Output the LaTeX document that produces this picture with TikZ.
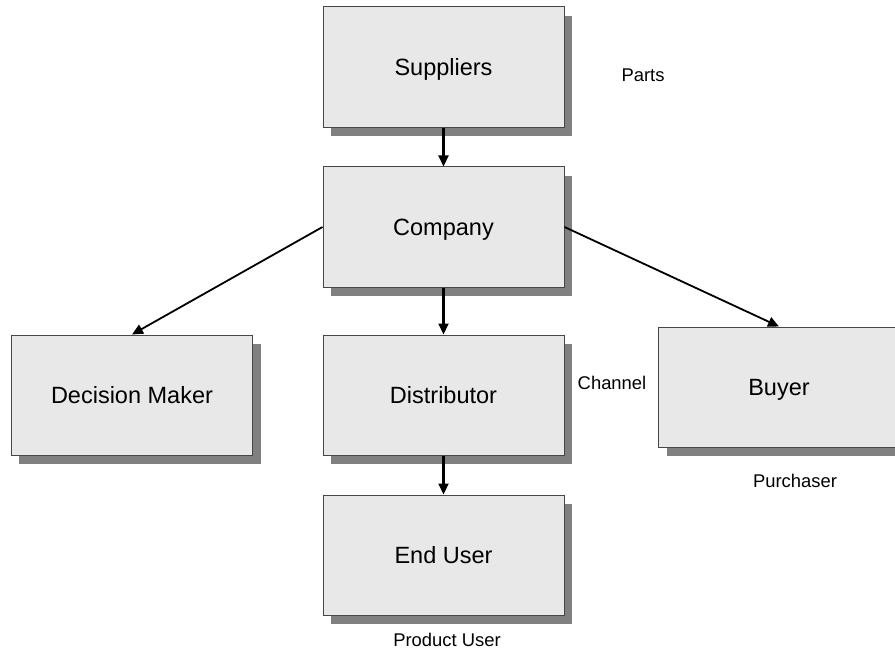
\documentclass[tikz,border=0pt]{standalone}
\usepackage{fontspec}
\setmainfont{Liberation Sans}
\usetikzlibrary{arrows.meta,shadows}
\definecolor{boxfill}{RGB}{232,232,232}
\definecolor{boxline}{RGB}{70,70,70}
\definecolor{shadowgray}{RGB}{128,128,128}
\begin{document}
\begin{tikzpicture}[x=1bp,y=-1bp,
  entity/.style={draw=boxline, line width=1bp, fill=boxfill,
    minimum width=241bp, minimum height=120bp, inner sep=0pt,
    text height=16.8bp, text depth=0pt,
    general shadow={fill=shadowgray, shadow xshift=8bp, shadow yshift=-9bp},
    font=\fontsize{23.5bp}{27bp}\selectfont},
  note/.style={inner sep=0pt, font=\fontsize{18.4bp}{22bp}\selectfont},
  flow/.style={line width=2.2bp, -{Triangle[length=11bp,width=10bp]}}]
\useasboundingbox (0,0) rectangle (895,649);
\clip (0,0) rectangle (895,649);
% boxes
\node[entity] (sup) at (443.5,67) {Suppliers};
\node[entity] (com) at (443.5,227) {Company};
\node[entity] (dm) at (132,395) {Decision Maker};
\node[entity] (dis) at (443.5,395) {Distributor};
\node[entity] (buy) at (779,387) {Buyer};
\node[entity] (eu) at (443.5,555) {End User};
% side labels
\node[note] (parts) at (643,75) {Parts};
\node[note] (chan) at (612,383) {Channel};
\node[note] (purch) at (795,481) {Purchaser};
\node[note] (puser) at (447,640) {Product User};
% connectors
\draw[flow] (sup) -- (com);
\draw[flow] (com) -- (dis);
\draw[flow] (dis) -- (eu);
\draw[flow, line width=1.8bp] (com.west) -- (dm.north);
\draw[flow, line width=1.8bp] (com.east) -- (buy.north);
\end{tikzpicture}
\end{document}
